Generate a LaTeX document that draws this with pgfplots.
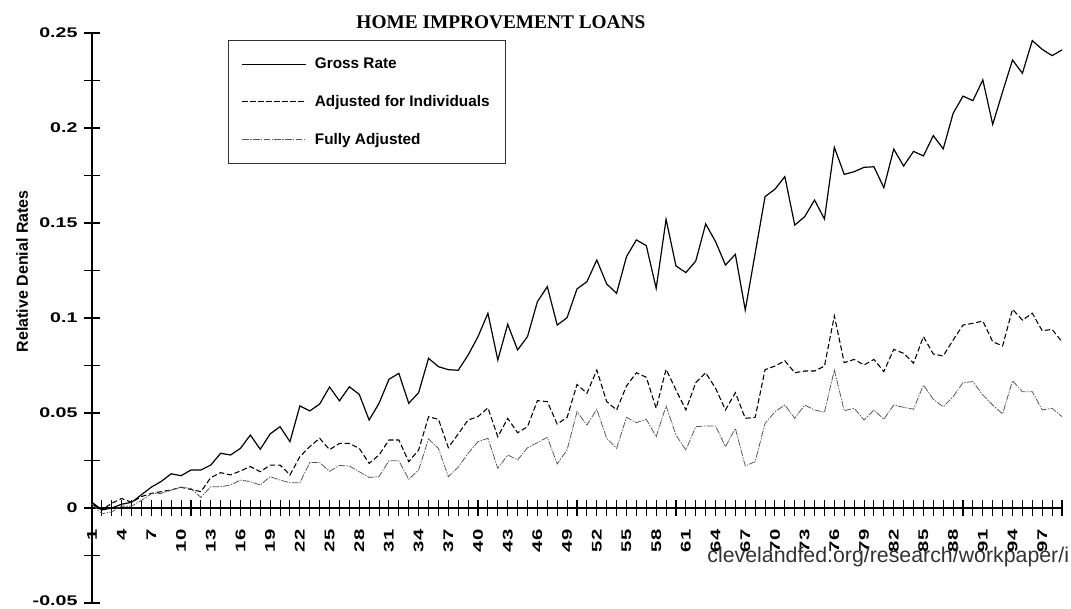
\documentclass[border=0pt]{standalone}
\usepackage{pgfplots}
\pgfplotsset{compat=1.18}
\usepackage{pgfplotstable}
\usepackage{fontspec}
\setmainfont{Liberation Sans}
\newfontfamily\titlefont{Liberation Serif}

\pgfplotstableread{
x g a f
1 0.003 0.002 0.002
2 -0.001 -0.001 -0.003
3 0.000 0.0025 -0.002
4 0.002 0.005 0.001
5 0.003 0.003 0.001
6 0.007 0.006 0.004
7 0.011 0.0077 0.0075
8 0.014 0.0086 0.0077
9 0.018 0.0095 0.0094
10 0.017 0.0109 0.011
11 0.020 0.0098 0.0103
12 0.020 0.0086 0.0056
13 0.0226 0.016 0.0112
14 0.0288 0.0186 0.0112
15 0.0279 0.0174 0.0121
16 0.0314 0.0195 0.0147
17 0.0384 0.0218 0.0139
18 0.0309 0.0191 0.0121
19 0.039 0.0226 0.0165
20 0.0428 0.0226 0.0147
21 0.0349 0.0174 0.0133
22 0.0537 0.027 0.0133
23 0.0511 0.0323 0.0239
24 0.0547 0.0367 0.0239
25 0.0637 0.0307 0.0193
26 0.0564 0.034 0.0224
27 0.0638 0.034 0.0221
28 0.0598 0.0314 0.0191
29 0.0463 0.0235 0.0161
30 0.0551 0.0279 0.0165
31 0.0677 0.0358 0.0249
32 0.0709 0.0358 0.0249
33 0.0551 0.0244 0.0151
34 0.0607 0.0305 0.02
35 0.0788 0.048 0.0363
36 0.0744 0.0467 0.0314
37 0.0728 0.0318 0.0165
38 0.0725 0.039 0.0215
39 0.0805 0.0463 0.0288
40 0.0902 0.0481 0.0349
41 0.1025 0.0527 0.0367
42 0.0779 0.0375 0.0209
43 0.0967 0.0472 0.0279
44 0.0832 0.0396 0.0253
45 0.0902 0.0428 0.0317
46 0.1086 0.0565 0.0344
47 0.1165 0.056 0.0372
48 0.0963 0.0442 0.0232
49 0.1002 0.0477 0.0305
50 0.1153 0.065 0.0507
51 0.1191 0.0604 0.0437
52 0.1305 0.0726 0.0519
53 0.1179 0.056 0.0367
54 0.113 0.0516 0.0314
55 0.1323 0.0642 0.0477
56 0.1411 0.0712 0.0449
57 0.1381 0.0688 0.0467
58 0.1156 0.0525 0.0375
59 0.1519 0.073 0.0537
60 0.1274 0.0621 0.0384
61 0.1239 0.0516 0.0305
62 0.13 0.066 0.0428
63 0.1495 0.0712 0.0432
64 0.1402 0.063 0.0432
65 0.1279 0.0516 0.0323
66 0.1335 0.0607 0.0419
67 0.1042 0.0472 0.0221
68 0.134 0.0477 0.0244
69 0.1639 0.0728 0.0446
70 0.1678 0.0747 0.0507
71 0.1744 0.0775 0.0542
72 0.1489 0.0712 0.0472
73 0.1533 0.0721 0.0542
74 0.1621 0.0721 0.0516
75 0.1521 0.0747 0.0504
76 0.1898 0.1011 0.0726
77 0.1756 0.0765 0.0512
78 0.177 0.0782 0.0525
79 0.1793 0.0753 0.0463
80 0.1796 0.0782 0.0516
81 0.1686 0.0718 0.0467
82 0.1889 0.0835 0.0542
83 0.18 0.0814 0.053
84 0.1877 0.0762 0.052
85 0.1853 0.0902 0.0647
86 0.196 0.081 0.0572
87 0.189 0.08 0.0533
88 0.2077 0.0884 0.0586
89 0.2168 0.0963 0.066
90 0.2144 0.0972 0.0665
91 0.2253 0.0984 0.0595
92 0.2019 0.0875 0.0542
93 0.2191 0.0853 0.0495
94 0.2358 0.1046 0.067
95 0.2288 0.0989 0.0612
96 0.246 0.1025 0.0612
97 0.2414 0.0933 0.0516
98 0.2381 0.094 0.0525
99 0.2411 0.0875 0.0481
}\datatable

\begin{document}
\begin{tikzpicture}
\useasboundingbox (0pt,0pt) rectangle (803.25pt,456pt);
\begin{axis}[
  at={(69pt,3.75pt)}, anchor=south west,
  scale only axis, width=727.5pt, height=427.5pt,
  xmin=1, xmax=99, ymin=-0.05, ymax=0.25,
  clip=false,
  axis x line=middle, axis y line=left,
  axis line style={-, line width=0.8pt, black},
  hide obscured x ticks=false, hide obscured y ticks=false,
  xtick={1,...,99},
  xticklabels={1,,,4,,,7,,,10,,,13,,,16,,,19,,,22,,,25,,,28,,,31,,,34,,,37,,,40,,,43,,,46,,,49,,,52,,,55,,,58,,,61,,,64,,,67,,,70,,,73,,,76,,,79,,,82,,,85,,,88,,,91,,,94,,,97,,},
  ytick={-0.05,0,0.05,0.1,0.15,0.2,0.25},
  yticklabels={\raisebox{4pt}{-0.05},0,0.05,0.1,0.15,0.2,0.25},
  minor ytick={-0.025,0.025,0.075,0.125,0.175,0.225},
  tick align=center, major tick length=12pt, minor tick length=12pt,
  tick style={black, line width=0.8pt},
  yticklabel style={font=\bfseries\fontsize{10.5}{12}\selectfont, xscale=1.4},
  xticklabel style={font=\bfseries\fontsize{10.5}{12}\selectfont, rotate=90, anchor=east, xscale=1.45},
  xticklabel shift=5pt,
  ylabel={Relative Denial Rates},
  ylabel style={at={(axis description cs:-0.072,0.582)}, anchor=center, font=\bfseries\fontsize{12}{14}\selectfont},
  title={HOME IMPROVEMENT LOANS},
  every axis title shift=0pt,
  title style={at={(axis description cs:0.4216,1.0193)}, anchor=center, font=\titlefont\bfseries\fontsize{14.5}{16}\selectfont},
  legend style={at={(axis description cs:0.1402,0.9877)}, anchor=north west,
    draw=black!80, line width=0.6pt, font=\bfseries\fontsize{11.5}{13}\selectfont,
    row sep=14.5pt, inner xsep=10pt, inner ysep=11pt,
    /tikz/every odd column/.append style={column sep=4pt}},
  legend cell align=left,
  legend image code/.code={\draw[#1] (0pt,0pt) -- (48pt,0pt);},
]
\addplot[black, line width=0.9pt] table[x=x, y=g] {\datatable};
\addlegendentry{Gross Rate}
\addplot[black, line width=0.8pt, dash pattern=on 4pt off 2pt] table[x=x, y=a] {\datatable};
\addlegendentry{Adjusted for Individuals}
\addplot[black!65, line width=0.6pt, dash pattern=on 5pt off 1pt on 1pt off 1pt] table[x=x, y=f] {\datatable};
\addlegendentry{Fully Adjusted}
\end{axis}
\node[anchor=base east, font=\fontsize{16}{18}\selectfont, text=black!80, inner sep=0pt] at (802pt,34.5pt) {clevelandfed.org/research/workpaper/i};
\end{tikzpicture}
\end{document}
